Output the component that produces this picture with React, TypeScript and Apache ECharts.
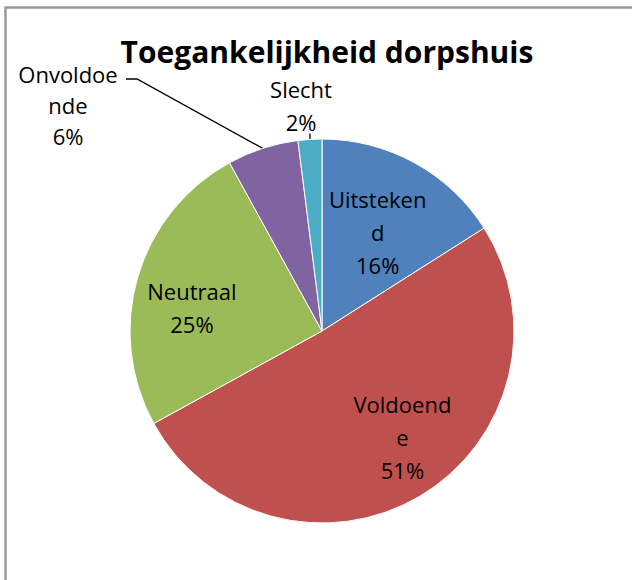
import React, { useEffect, useRef } from "react";
import * as echarts from "echarts";

const TITLE = "Toegankelijkheid dorpshuis";
const categories = ["Uitstekend", "Voldoende", "Neutraal", "Onvoldoende", "Slecht"];
const labelTexts = ["Uitsteken\nd", "Voldoend\ne", "Neutraal", "Onvoldoe\nnde", "Slecht"];
const values = [16, 51, 25, 6, 2];
const colors = ["#4F81BD", "#C0504D", "#9BBB59", "#8064A2", "#4BACC6"];

const FONT = "'Open Sans', 'Noto Sans', sans-serif";
const insideOffsets: Record<number, [number, number]> = {
  0: [8, -12],
  1: [30, 21],
  2: [-35, 4],
};

export default function App() {
  const ref = useRef<HTMLDivElement>(null);
  useEffect(() => {
    if (!ref.current) return;
    const chart = echarts.init(ref.current, undefined, { renderer: "svg" });
    const data = categories.map((name, i) => {
      const outside = i >= 3;
      return {
        name,
        value: values[i],
        itemStyle: { color: colors[i] },
        label: outside
          ? { position: "outside", lineHeight: i === 3 ? 31 : 33 }
          : { position: "inside", lineHeight: 33 },
      };
    });
    chart.setOption({
      animation: false,
      backgroundColor: "#ffffff",
      title: {
        text: TITLE,
        left: 322,
        top: 31,
        textAlign: "center",
        textStyle: {
          fontFamily: FONT,
          fontWeight: "bold",
          fontSize: 30,
          color: "#000",
          lineHeight: 30,
        },
      },
      graphic: [
        {
          type: "rect",
          shape: { x: 5.5, y: 7.5, width: 800, height: 800 },
          style: { fill: "none", stroke: "#9a9a9a", lineWidth: 2.5 },
          silent: true,
        },
      ],
      series: [
        {
          type: "pie",
          center: [322, 331],
          radius: 192,
          startAngle: 90,
          clockwise: true,
          avoidLabelOverlap: false,
          itemStyle: { borderColor: "#ffffff", borderWidth: 1 },
          label: {
            show: true,
            fontFamily: FONT,
            fontSize: 22,
            color: "#000",
            formatter: (p: any) => `${labelTexts[p.dataIndex]}\n${p.value}%`,
          },
          labelLine: {
            show: true,
            length: 5,
            length2: 5,
            lineStyle: { color: "#000", width: 1.3 },
          },
          emphasis: { disabled: true },
          labelLayout: (params: any) => {
            const i = params.dataIndex;
            const pts = params.labelLinePoints;
            if (i === 3 && pts) {
              return {
                x: 68,
                y: 105,
                align: "center",
                verticalAlign: "middle",
                labelLinePoints: [pts[0], [137, 79], [126, 79]],
              };
            }
            if (i === 4 && pts) {
              return {
                x: 301,
                y: 105,
                align: "center",
                verticalAlign: "middle",
                labelLinePoints: [pts[0], [pts[0][0], pts[0][1] - 6]],
              };
            }
            const o = insideOffsets[i] || [0, 0];
            return { dx: o[0], dy: o[1] };
          },
          data,
        },
      ],
    });
    return () => chart.dispose();
  }, []);
  return (
    <div
      ref={ref}
      style={{ position: "fixed", left: 0, top: 0, width: 632, height: 580 }}
    />
  );
}
